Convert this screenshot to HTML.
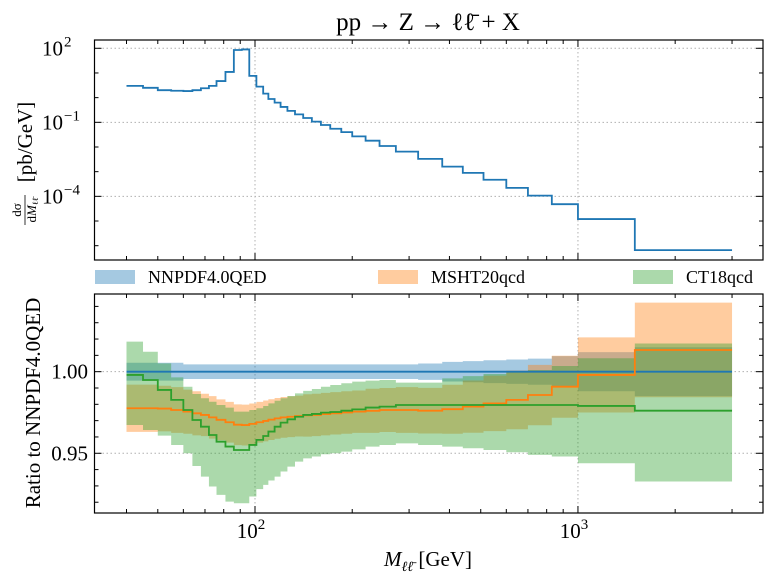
<!DOCTYPE html>
<html><head><meta charset="utf-8"><style>
html,body{margin:0;padding:0;background:#fff;}
svg{display:block;font-family:"Liberation Serif",serif;}
</style></head><body>
<svg id="chart" width="768" height="576" viewBox="0 0 768 576" xmlns="http://www.w3.org/2000/svg"></svg>
<script>
const edges = [40,45,50,55,60,64,68,72,76,81,86,91,96,101,106,110,115,120,126,133,141,150,160,171,185,200,220,243,273,320,380,440,510,600,700,830,1000,1500,3000];
const xsec = [3.0,2.5,2.0,1.9,1.85,2.0,2.4,3.0,4.7,11,85,90,7.6,2.8,1.45,0.88,0.63,0.42,0.29,0.21,0.15,0.107,0.078,0.055,0.04,0.027,0.018,0.011,0.0065,0.0033,0.0016,0.00089,0.00047,0.00022,0.000107,0.000048,0.000012,0.00000066];
const nnpdfErr = [0.0055,0.0055,0.0055,0.0055,0.0045,0.0045,0.0045,0.0045,0.0045,0.0045,0.0045,0.0045,0.0045,0.0045,0.0045,0.0045,0.0045,0.0045,0.0045,0.0045,0.0045,0.0045,0.0045,0.0045,0.0045,0.0045,0.0045,0.0045,0.0045,0.005,0.006,0.0065,0.007,0.0075,0.008,0.0095,0.012,0.015];
const mshtCentral = [0.9776,0.9776,0.9774,0.9765,0.9755,0.9745,0.9735,0.972,0.9705,0.969,0.9675,0.9673,0.968,0.969,0.9698,0.9706,0.9714,0.972,0.9724,0.9728,0.9732,0.9735,0.974,0.9745,0.975,0.9755,0.976,0.9765,0.9765,0.9761,0.977,0.9786,0.9806,0.9827,0.9857,0.9908,0.998,1.0133];
const mshtErr = [0.0145,0.0145,0.014,0.014,0.0135,0.0135,0.013,0.013,0.0125,0.0125,0.0125,0.0125,0.0125,0.0125,0.0125,0.0125,0.0125,0.0125,0.0125,0.0125,0.013,0.013,0.013,0.013,0.013,0.013,0.0135,0.0135,0.014,0.014,0.015,0.016,0.017,0.018,0.0185,0.019,0.023,0.029];
const ctCentral = [0.998,0.9949,0.9888,0.9827,0.9765,0.9704,0.9663,0.9612,0.9571,0.9541,0.952,0.952,0.9551,0.9582,0.9606,0.9633,0.9663,0.9688,0.9708,0.9724,0.9735,0.9741,0.9749,0.9753,0.9761,0.9769,0.978,0.9786,0.9796,0.9796,0.9796,0.9796,0.9796,0.9796,0.9796,0.9796,0.979,0.9761];
const ctUpper = [1.0184,1.0122,1.0051,0.9965,0.9908,0.9863,0.9837,0.9816,0.9796,0.978,0.9755,0.9755,0.9765,0.9776,0.979,0.9806,0.9822,0.9837,0.9851,0.9867,0.9882,0.9894,0.9908,0.9918,0.9929,0.9939,0.9945,0.9949,0.9933,0.9933,0.9959,0.9973,0.9986,1.0,1.001,1.0035,1.0082,1.0173];
const ctLower = [0.9673,0.9643,0.9608,0.9551,0.95,0.9422,0.9357,0.9296,0.9245,0.9204,0.9194,0.9194,0.9235,0.928,0.9306,0.9333,0.9357,0.9388,0.9418,0.9449,0.9469,0.948,0.9494,0.95,0.951,0.9524,0.9541,0.9551,0.9561,0.9551,0.9541,0.9531,0.952,0.9506,0.949,0.948,0.9439,0.9327];
const xTickVals = [100,1000];
const xTickLabels = ["10","10"];
const xTickExps = ["2","3"];
const topTickVals = [2,-1,-4];
const ratioTickVals = [0.95,1.00];
const ratioTickLabels = ["0.95","1.00"];

const svg = document.getElementById('chart');
const NS = 'http://www.w3.org/2000/svg';
function mk(tag, attrs, parent){ const e=document.createElementNS(NS,tag); for(const k in attrs) e.setAttribute(k,attrs[k]); (parent||svg).appendChild(e); return e; }

const L=94.5, R=763;
const xLmin=1.503, xLmax=3.573;
function X(v){ return L + (Math.log10(v)-xLmin)/(xLmax-xLmin)*(R-L); }
const T1=40, B1=260, yLmax=2.336, yLmin=-6.58;
function Y1(v){ return T1 + (yLmax-Math.log10(v))/(yLmax-yLmin)*(B1-T1); }
const T2=294, B2=513, rMax=1.0476, rMin=0.9134;
function Y2(v){ return T2 + (rMax-v)/(rMax-rMin)*(B2-T2); }

const clip = mk('defs',{});
const cp1 = mk('clipPath',{id:'c1'},clip); mk('rect',{x:L,y:T1,width:R-L,height:B1-T1},cp1);
const cp2 = mk('clipPath',{id:'c2'},clip); mk('rect',{x:L,y:T2,width:R-L,height:B2-T2},cp2);

function stepPath(vals, yf){
  let d='';
  for(let i=0;i<vals.length;i++){
    const x0=X(edges[i]), x1=X(edges[i+1]), y=yf(vals[i]);
    d += (i===0?'M':'L')+x0.toFixed(2)+','+y.toFixed(2)+'L'+x1.toFixed(2)+','+y.toFixed(2);
  }
  return d;
}
function bandPath(lo, hi, yf){
  let d='';
  for(let i=0;i<hi.length;i++){
    const x0=X(edges[i]), x1=X(edges[i+1]), y=yf(hi[i]);
    d += (i===0?'M':'L')+x0.toFixed(2)+','+y.toFixed(2)+'L'+x1.toFixed(2)+','+y.toFixed(2);
  }
  for(let i=lo.length-1;i>=0;i--){
    const x0=X(edges[i]), x1=X(edges[i+1]), y=yf(lo[i]);
    d += 'L'+x1.toFixed(2)+','+y.toFixed(2)+'L'+x0.toFixed(2)+','+y.toFixed(2);
  }
  return d+'Z';
}

function grid(g, x1,y1,x2,y2){ mk('line',{x1,y1,x2,y2,stroke:'#b0b0b0','stroke-width':1,'stroke-dasharray':'1.5,2.5'},g); }
const gGrid = mk('g',{});


xTickVals.forEach(v=>{ grid(gGrid,X(v),T1,X(v),B1); grid(gGrid,X(v),T2,X(v),B2); });
topTickVals.forEach(e=>{ const y=Y1(Math.pow(10,e)); grid(gGrid,L,y,R,y); });
ratioTickVals.forEach(v=>{ const y=Y2(v); grid(gGrid,L,y,R,y); });

const topLine = mk('path',{d:stepPath(xsec,Y1),fill:'none',stroke:'#1f77b4','stroke-width':1.8,'clip-path':'url(#c1)'});



const nnLo = nnpdfErr.map(e=>1-e), nnHi = nnpdfErr.map(e=>1+e);
const msLo = mshtCentral.map((c,i)=>c-mshtErr[i]), msHi = mshtCentral.map((c,i)=>c+mshtErr[i]);
const gR = mk('g',{'clip-path':'url(#c2)'});
const b1 = mk('path',{d:bandPath(nnLo,nnHi,Y2),fill:'#1f77b4','fill-opacity':0.4},gR);


const b2 = mk('path',{d:bandPath(msLo,msHi,Y2),fill:'#ff7f0e','fill-opacity':0.4},gR);


const b3 = mk('path',{d:bandPath(ctLower,ctUpper,Y2),fill:'#2ca02c','fill-opacity':0.4},gR);


const l1 = mk('path',{d:stepPath(edges.slice(0,-1).map(()=>1),Y2),fill:'none',stroke:'#1f77b4','stroke-width':1.8},gR);


const l2 = mk('path',{d:stepPath(mshtCentral,Y2),fill:'none',stroke:'#ff7f0e','stroke-width':1.8},gR);


const l3 = mk('path',{d:stepPath(ctCentral,Y2),fill:'none',stroke:'#2ca02c','stroke-width':1.8},gR);



function frame(T,B,name){ const r=mk('rect',{x:L,y:T,width:R-L,height:B-T,fill:'none',stroke:'#000','stroke-width':1.2});   }
frame(T1,B1,'top-axes-frame'); frame(T2,B2,'ratio-axes-frame');
function tk(x1,y1,x2,y2,w){ mk('line',{x1,y1,x2,y2,stroke:'#000','stroke-width':w||1}); }
[[T1,B1],[T2,B2]].forEach(([T,B])=>{
  for(let d=1; d<=3; d++) for(let m=1;m<10;m++){
    const v=m*Math.pow(10,d); if(v<Math.pow(10,xLmin)||v>Math.pow(10,xLmax)) continue;
    const len = m===1?7:4;
    const x=X(v); tk(x,T,x,T+len); tk(x,B,x,B-len);
  }
});
for(let e=-6;e<=2;e++){ const y=Y1(Math.pow(10,e)); const len=(e%3===2||e%3===-1)?7:4; tk(L,y,L+len,y); tk(R,y,R-len,y); }
for(let v=0.92; v<=1.045; v+=0.01){ const y=Y2(v); const maj=Math.abs(v-0.95)<1e-6||Math.abs(v-1)<1e-6; const len=maj?7:4; tk(L,y,L+len,y); tk(R,y,R-len,y); }

function txt(s,attrs,name){ const t=mk('text',attrs); t.textContent=s;   return t; }
xTickVals.forEach((v,i)=>{
  const t=mk('text',{x:X(v)-4,y:538,'font-size':21,'text-anchor':'middle'});
  
  
  t.textContent=xTickLabels[i];
  const s=mk('tspan',{dy:-9,'font-size':15},t); s.textContent=xTickExps[i];
});
topTickVals.forEach(e=>{
  const y=Y1(Math.pow(10,e));
  const t=mk('text',{x:63,y:y+7,'font-size':21,'text-anchor':'end'});
  
  
  t.textContent='10';
  const s=mk('tspan',{dy:-9,'font-size':15,x:64,'text-anchor':'start'},t); s.textContent=(e<0?'\u2212'+(-e):String(e));
});
ratioTickVals.forEach((v,i)=>{ txt(ratioTickLabels[i],{x:88,y:Y2(v)+7,'font-size':21,'text-anchor':'end'},'ratio-y-tick-label'); });

txt('pp \u2192 Z \u2192 \u2113\u2113\u0304 + X',{x:428,y:30,'font-size':25,'text-anchor':'middle'},'chart-title');
const xl = mk('text',{x:428,y:566,'font-size':21,'text-anchor':'middle'});
 
xl.innerHTML='<tspan font-style="italic">M</tspan><tspan font-size="14" dy="5" font-style="italic">\u2113\u2113\u0304</tspan><tspan dy="-5"> [GeV]</tspan>';

const yg = mk('g',{transform:'translate(25,150) rotate(-90)'});


const num = mk('text',{x:-60,y:-4,'font-size':13,'text-anchor':'middle'},yg); num.textContent='d\u03c3';
mk('line',{x1:-75,y1:0,x2:-45,y2:0,stroke:'#000','stroke-width':0.8},yg);
const den = mk('text',{x:-60,y:11,'font-size':13,'text-anchor':'middle'},yg);
den.innerHTML='d<tspan font-style="italic">M</tspan><tspan font-size="8" dy="2">\u2113\u2113\u0304</tspan>';
const unit = mk('text',{x:8,y:7,'font-size':21,'text-anchor':'middle'},yg); unit.textContent='[pb/GeV]';

txt('Ratio to NNPDF4.0QED',{x:0,y:0,'font-size':21,'text-anchor':'middle',transform:'translate(40,403) rotate(-90)'},'ratio-y-axis-title');

const leg = [['NNPDF4.0QED','#1f77b4',95],['MSHT20qcd','#ff7f0e',378],['CT18qcd','#2ca02c',633]];
leg.forEach(([n,c,x])=>{
  const g=mk('g',{});
  
  
  mk('rect',{x:x,y:270,width:40,height:14,fill:c,'fill-opacity':0.4},g);
  const t=mk('text',{x:x+53,y:283,'font-size':18},g); t.textContent=n;
});
</script>
</body></html>
